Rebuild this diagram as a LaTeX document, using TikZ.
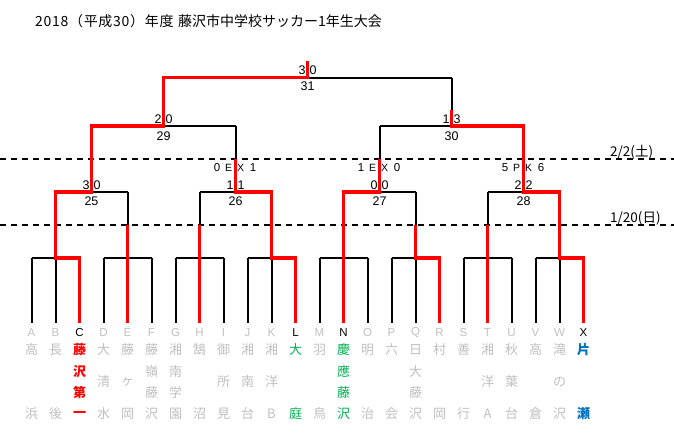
\documentclass[tikz,border=0pt]{standalone}
\usepackage{fontspec}
\setmainfont{Liberation Sans}
\newfontfamily\jp{Noto Sans CJK JP}
\newfontfamily\jpsp[LetterSpace=5]{Noto Sans CJK JP}
\definecolor{cGray}{RGB}{191,191,191}
\definecolor{cRed}{RGB}{255,0,0}
\definecolor{cGreen}{RGB}{0,176,80}
\definecolor{cBlue}{RGB}{0,112,192}
\begin{document}
\begin{tikzpicture}[x=1pt,y=-1pt,
  bk/.style={line width=2pt,black},
  rd/.style={line width=3.2pt,cRed},
  dsh/.style={line width=2.6pt,black,dash pattern=on 6pt off 5pt},
  ttl/.style={font=\jp\fontsize{14}{16}\selectfont,inner sep=0pt},
  ttls/.style={font=\jpsp\fontsize{14}{16}\selectfont,inner sep=0pt},
  sc/.style={font=\fontsize{12.5}{14}\selectfont,inner sep=0pt},
  scs/.style={font=\fontsize{11.5}{13}\selectfont,inner sep=0pt},
  scl/.style={font=\fontsize{10.5}{12}\selectfont,inner sep=0pt},
  dt/.style={font=\jp\fontsize{13.5}{15}\selectfont,inner sep=0pt,anchor=west},
  ltg/.style={font=\fontsize{11.5}{13}\selectfont,inner sep=0pt,text=cGray},
  ltk/.style={font=\fontsize{11.5}{13}\selectfont,inner sep=0pt,text=black},
  ng/.style={font=\jp\fontsize{13}{14}\selectfont,inner sep=0pt,text=cGray},
  nr/.style={font=\jp\bfseries\fontsize{13}{14}\selectfont,inner sep=0pt,text=cRed},
  ngr/.style={font=\jp\fontsize{13}{14}\selectfont,inner sep=0pt,text=cGreen},
  nb/.style={font=\jp\bfseries\fontsize{13}{14}\selectfont,inner sep=0pt,text=cBlue}]
\useasboundingbox (0,0) rectangle (674,437);

% title
\node[ttls,anchor=west] (title1) at (35,21) {2018（平成30）年度};
\node[ttl,anchor=west] (title2) at (178,21) {藤沢市中学校サッカー1年生大会};

% dashed day lines
\coordinate (dA1) at (0,159);  \coordinate (dA2) at (674,159);
\coordinate (dB1) at (0,225);  \coordinate (dB2) at (674,225);
\draw[dsh] (dA1) -- (dA2);
\draw[dsh] (dB1) -- (dB2);
\node[dt] (date1) at (610,152) {2/2(土)};
\node[dt] (date2) at (610,218.5) {1/20(日)};

% coordinates
\foreach \i in {0,...,23}{
  \coordinate (tt\i) at ({31.5+24*\i},258);
  \coordinate (tb\i) at ({31.5+24*\i},323);
}
\foreach \g in {0,...,7}{
  \coordinate (gm\g) at ({55.5+72*\g},258);
  \coordinate (gu\g) at ({55.5+72*\g},192);
}
\foreach \k in {0,...,3}{
  \coordinate (q\k) at ({91.5+144*\k},192);
  \coordinate (h\k) at ({91.5+144*\k},126);
}
\coordinate (s0) at (163.5,126);
\coordinate (s1) at (451.5,126);
\coordinate (s1r) at (451.5,110);
\coordinate (f0) at (163.5,77.7);
\coordinate (f1) at (451.5,77.7);
\coordinate (fc) at (307.5,77.7);
\coordinate (ftop) at (307.5,61);

% black bracket
\foreach \i in {0,...,23}{ \draw[bk] (tt\i) -- (tb\i); }
\foreach \g in {0,...,7}{
  \pgfmathtruncatemacro{\ga}{3*\g}
  \pgfmathtruncatemacro{\gb}{3*\g+2}
  \draw[bk] (tt\ga) -- (tt\gb);
  \draw[bk] (gm\g) -- (gu\g);
}
\draw[bk] (gu0) -- (gu1);
\draw[bk] (gu2) -- (gu3);
\draw[bk] (gu4) -- (gu5);
\draw[bk] (gu6) -- (gu7);
\foreach \k in {0,...,3}{ \draw[bk] (q\k) -- (h\k); }
\draw[bk] (h0) -- (h1);
\draw[bk] (h2) -- (h3);
\draw[bk] (s0) -- (f0);
\draw[bk] (s1) -- (f1);
\draw[bk] (f0) -- (f1);

% red winner paths
\draw[rd] (tb2) -- (tt2) -- (gm0) -- (gu0) -- (q0) -- (h0) -- (s0) -- (f0) -- (fc) -- (ftop);
\draw[rd] (tb4) -- (tb4 |- dB1);
\draw[rd] (tb7) -- (tb7 |- dB1);
\draw[rd] (tb11) -- (tt11) -- (gm3) -- (gu3) -- (q1) -- (q1 |- dA1);
\draw[rd] (tb13) -- (gu4) -- (q2) -- (q2 |- dA1);
\draw[rd] (tb17) -- (tt17) -- (gm5) -- (gm5 |- dB1);
\draw[rd] (tb19) -- (tb19 |- dB1);
\draw[rd] (tb23) -- (tt23) -- (gm7) -- (gu7) -- (q3) -- (h3) -- (s1) -- (s1r);

% scores and match numbers
\node[sc] (m31a) at (302,70.5) {3};
\node[sc] (m31b) at (313,70.5) {0};
\node[sc] (m31) at (307.5,86.5) {31};
\node[sc] (m29a) at (158,119.5) {2};
\node[sc] (m29b) at (169,119.5) {0};
\node[sc] (m29) at (163.5,136) {29};
\node[sc] (m30a) at (446,119.5) {1};
\node[sc] (m30b) at (457,119.5) {3};
\node[sc] (m30) at (451.5,136) {30};
\foreach \k/\a/\b/\num in {0/3/0/25,1/1/1/26,2/0/0/27,3/2/2/28}{
  \node[sc] (sa\k) at ({86+144*\k},185) {\a};
  \node[sc] (sb\k) at ({97+144*\k},185) {\b};
  \node[sc] (mn\k) at ({91.5+144*\k},201) {\num};
}
\foreach \k/\a/\p/\q/\b in {1/0/E/X/1,2/1/E/X/0,3/5/P/K/6}{
  \node[scs] (xa\k) at ({73+144*\k},168) {\a};
  \node[scl] (xp\k) at ({84.5+144*\k},168) {\p};
  \node[scl] (xq\k) at ({96.5+144*\k},168) {\q};
  \node[scs] (xb\k) at ({109+144*\k},168) {\b};
}

% teams
\foreach \i/\L/\ls/\ns/\n/\cs in {
0/A/ltg/ng/2/{高,浜},
1/B/ltg/ng/2/{長,後},
2/C/ltk/nr/4/{藤,沢,第,一},
3/D/ltg/ng/3/{大,清,水},
4/E/ltg/ng/3/{藤,ヶ,岡},
5/F/ltg/ng/4/{藤,嶺,藤,沢},
6/G/ltg/ng/4/{湘,南,学,園},
7/H/ltg/ng/2/{鵠,沼},
8/I/ltg/ng/3/{御,所,見},
9/J/ltg/ng/3/{湘,南,台},
10/K/ltg/ng/3/{湘,洋,B},
11/L/ltk/ngr/2/{大,庭},
12/M/ltg/ng/2/{羽,鳥},
13/N/ltk/ngr/4/{慶,應,藤,沢},
14/O/ltg/ng/2/{明,治},
15/P/ltg/ng/2/{六,会},
16/Q/ltg/ng/4/{日,大,藤,沢},
17/R/ltg/ng/2/{村,岡},
18/S/ltg/ng/2/{善,行},
19/T/ltg/ng/3/{湘,洋,A},
20/U/ltg/ng/3/{秋,葉,台},
21/V/ltg/ng/2/{高,倉},
22/W/ltg/ng/3/{滝,の,沢},
23/X/ltk/nb/2/{片,瀬}}{
  \node[\ls] (let\i) at ({31.5+24*\i},332.5) {\L};
  \foreach \ch [count=\k from 0] in \cs {
    \node[\ns] (nm\i-\k) at ({31.5+24*\i},{350+64*\k/(\n-1)}) {\ch};
  }
}
\end{tikzpicture}
\end{document}
